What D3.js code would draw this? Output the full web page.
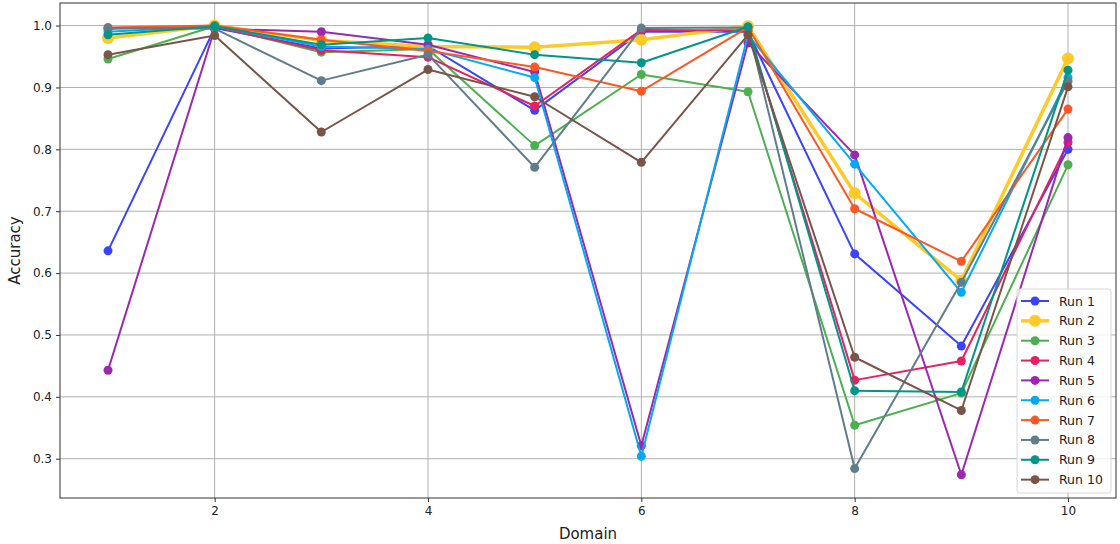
<!DOCTYPE html>
<html>
<head>
<meta charset="utf-8">
<script src="https://cdn.jsdelivr.net/npm/d3@7"></script>
<style>
  body { margin: 0; background: #fff; }
  svg { display: block; font-family: "DejaVu Sans", sans-serif; }
</style>
</head>
<body>
<svg id="chart" width="1120" height="544"></svg>
<script>
const domains = [1, 2, 3, 4, 5, 6, 7, 8, 9, 10];
const runNames = ["Run 1", "Run 2", "Run 3", "Run 4", "Run 5", "Run 6", "Run 7", "Run 8", "Run 9", "Run 10"];
const runColors = ["#3a44ff", "#ffca28", "#4caf50", "#e91e63", "#9c27b0", "#03a9f4", "#ff5722", "#607d8b", "#009688", "#795548"];

const run1 = [0.636, 0.996, 0.963, 0.967, 0.863, 0.990, 0.990, 0.631, 0.482, 0.800];
const run2 = [0.980, 1.000, 0.976, 0.966, 0.965, 0.977, 0.999, 0.729, 0.588, 0.947];
const run3 = [0.946, 0.999, 0.957, 0.962, 0.806, 0.921, 0.893, 0.354, 0.406, 0.775];
const run4 = [0.995, 0.998, 0.960, 0.949, 0.870, 0.993, 0.992, 0.427, 0.458, 0.811];
const run5 = [0.443, 0.995, 0.990, 0.969, 0.925, 0.321, 0.972, 0.791, 0.274, 0.819];
const run6 = [0.990, 0.999, 0.966, 0.962, 0.916, 0.304, 0.985, 0.776, 0.569, 0.916];
const run7 = [0.997, 1.000, 0.977, 0.959, 0.933, 0.894, 0.997, 0.704, 0.619, 0.865];
const run8 = [0.996, 0.995, 0.911, 0.953, 0.771, 0.996, 0.997, 0.284, 0.585, 0.910];
const run9 = [0.985, 0.999, 0.969, 0.980, 0.953, 0.940, 0.998, 0.410, 0.408, 0.928];
const run10 = [0.953, 0.984, 0.828, 0.929, 0.885, 0.779, 0.985, 0.464, 0.378, 0.901];
const runValues = [run1, run2, run3, run4, run5, run6, run7, run8, run9, run10];

const xTicks = [2, 4, 6, 8, 10];
const yTicks = [0.3, 0.4, 0.5, 0.6, 0.7, 0.8, 0.9, 1.0];

const svg = d3.select("#chart");
const width = 1120, height = 544;
const margin = {top: 3, right: 4, bottom: 46, left: 60};

const x = d3.scaleLinear().domain([0.55, 10.45]).range([margin.left, width - margin.right]);
const y = d3.scaleLinear().domain([0.2365, 1.0365]).range([height - margin.bottom, margin.top]);

// grid
const grid = svg.append("g").attr("stroke", "#b0b0b0").attr("stroke-width", 1);
xTicks.forEach(t => {
    grid.append("line").attr("x1", x(t)).attr("x2", x(t))
        .attr("y1", margin.top).attr("y2", height - margin.bottom);
});
yTicks.forEach(t => {
    grid.append("line").attr("x1", margin.left).attr("x2", width - margin.right)
        .attr("y1", y(t)).attr("y2", y(t));
});

// axes
const xAxis = svg.append("g")
    .attr("transform", "translate(0," + (height - margin.bottom) + ")")
    .call(d3.axisBottom(x).tickValues(xTicks).tickFormat(d3.format("d")).tickSize(4).tickPadding(4));
const yAxis = svg.append("g")
    .attr("transform", "translate(" + margin.left + ",0)")
    .call(d3.axisLeft(y).tickValues(yTicks).tickFormat(d3.format(".1f")).tickSize(4).tickPadding(4));
[xAxis, yAxis].forEach(a => {
    a.select(".domain").remove();
    a.selectAll("text").attr("font-size", 12).attr("fill", "#222").style("font-family", "DejaVu Sans");
    a.selectAll("line").attr("stroke", "#333");
});

svg.append("rect")
    .attr("x", margin.left).attr("y", margin.top)
    .attr("width", width - margin.left - margin.right)
    .attr("height", height - margin.top - margin.bottom)
    .attr("fill", "none").attr("stroke", "#333").attr("stroke-width", 1);

// lines
const line = d3.line()
    .x((d, i) => x(domains[i]))
    .y(d => y(d));

runValues.forEach((vals, r) => {
    const big = r === 1;
    const g = svg.append("g");
    g.append("path")
        .attr("d", line(vals))
        .attr("fill", "none")
        .attr("stroke", runColors[r])
        .attr("stroke-width", big ? 3.5 : 2)
        .attr("stroke-linejoin", "round");
    g.selectAll("circle")
        .data(vals)
        .enter()
        .append("circle")
        .attr("cx", (d, i) => x(domains[i]))
        .attr("cy", d => y(d))
        .attr("r", big ? 6 : 4.5)
        .attr("fill", runColors[r]);
});

// legend
const lg = svg.append("g").attr("transform", "translate(1017,289)");
lg.append("rect")
    .attr("width", 94).attr("height", 204).attr("rx", 3)
    .attr("fill", "#fff").attr("fill-opacity", 0.8)
    .attr("stroke", "#d8d8d8");
runNames.forEach((name, i) => {
    const big = i === 1;
    const yy = 12 + i * 19.85;
    lg.append("line")
        .attr("x1", 4).attr("x2", 32).attr("y1", yy).attr("y2", yy)
        .attr("stroke", runColors[i]).attr("stroke-width", big ? 3.5 : 2);
    lg.append("circle").attr("cx", 18).attr("cy", yy).attr("r", big ? 6 : 4.5).attr("fill", runColors[i]);
    lg.append("text").attr("x", 42).attr("y", yy + 4.5)
        .attr("font-size", 12.5).attr("fill", "#222").text(name);
});

// axis labels
svg.append("text")
    .attr("x", (margin.left + width - margin.right) / 2).attr("y", 539)
    .attr("text-anchor", "middle").attr("font-size", 15).attr("fill", "#222")
    .text("Domain");
svg.append("text")
    .attr("transform", "translate(20," + ((margin.top + height - margin.bottom) / 2) + ") rotate(-90)")
    .attr("text-anchor", "middle").attr("font-size", 15).attr("fill", "#222")
    .text("Accuracy");
</script>
</body>
</html>
